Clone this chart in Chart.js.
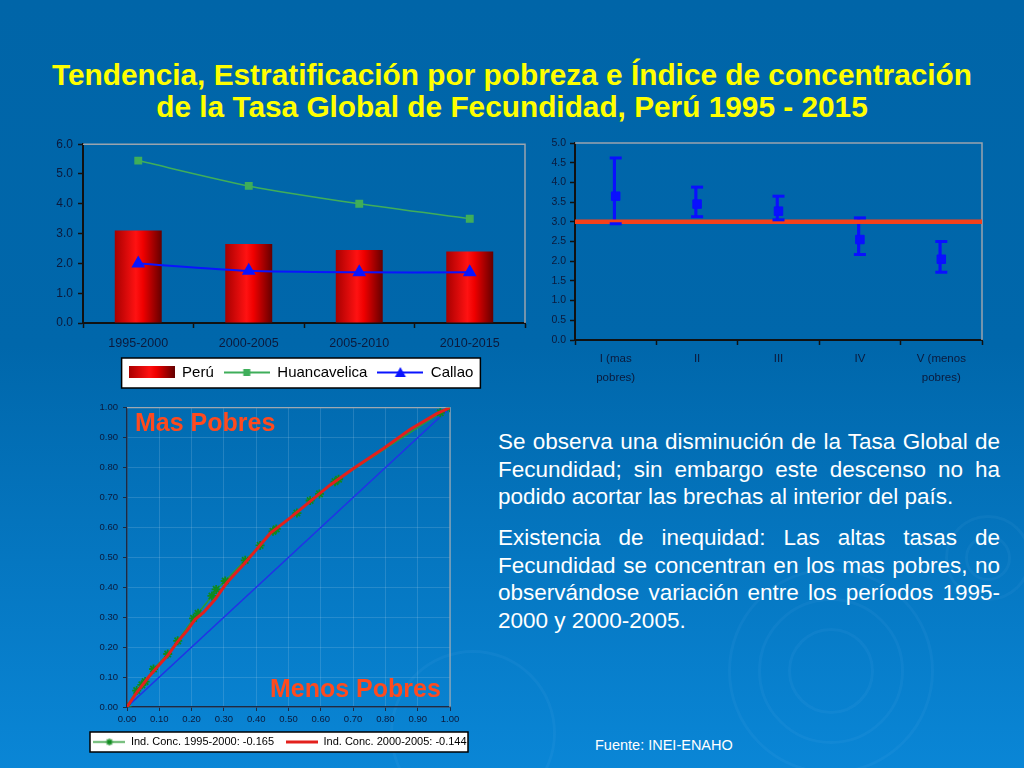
<!DOCTYPE html>
<html>
<head>
<meta charset="utf-8">
<script src="https://cdn.jsdelivr.net/npm/chart.js@4.4.1/dist/chart.umd.min.js"></script>
<style>
  html, body { margin: 0; padding: 0; }
  body {
    width: 1024px; height: 768px; overflow: hidden; position: relative;
    background: linear-gradient(to bottom, #0065a8 0%, #0067ab 45%, #0a86d6 100%);
    font-family: "Liberation Sans", Arial, sans-serif;
  }
  .ring { position: absolute; border-radius: 50%; border: 3px solid rgba(150, 205, 255, 0.06); }
  #title {
    position: absolute; left: 0; top: 59px; width: 1024px; text-align: center;
    color: #ffff00; font-weight: bold; font-size: 29.8px; line-height: 32px;
  }
  .box { position: absolute; }
  #texto {
    position: absolute; left: 498px; top: 428px; width: 502px; color: #fff;
    font-size: 22.5px; line-height: 27.5px; text-align: justify;
  }
  #texto p { margin: 0 0 13.5px 0; }
  #fuente { position: absolute; left: 595px; top: 737px; color: #fff; font-size: 14.5px; }
  .etq { position: absolute; color: #ff4a1e; font-weight: bold; font-size: 25px; line-height: 25px; white-space: nowrap; }
</style>
</head>
<body>
<div class="ring" style="left:788px;top:628px;width:80px;height:80px"></div>
<div class="ring" style="left:758px;top:598px;width:140px;height:140px"></div>
<div class="ring" style="left:728px;top:568px;width:200px;height:200px"></div>
<div class="ring" style="left:965px;top:535px;width:40px;height:40px"></div>
<div class="ring" style="left:945px;top:515px;width:80px;height:80px"></div>
<div class="ring" style="left:390px;top:650px;width:160px;height:160px"></div>

<div id="title">Tendencia, Estratificación por pobreza e Índice de concentración<br>de la Tasa Global de Fecundidad, Perú 1995 - 2015</div>

<div class="box" style="left:40px;top:132px;width:522px;height:260px"><canvas id="c1"></canvas></div>
<div class="box" style="left:532px;top:132px;width:470px;height:258px"><canvas id="c2"></canvas></div>
<div class="box" style="left:78px;top:397px;width:404px;height:361px"><canvas id="c3"></canvas></div>

<div class="etq" style="left:135px;top:410px">Mas Pobres</div>
<div class="etq" style="left:270px;top:676px">Menos Pobres</div>

<div id="texto">
  <p>Se observa una disminución de la Tasa Global de Fecundidad; sin embargo este descenso no ha podido acortar las brechas al interior del país.</p>
  <p>Existencia de inequidad: Las altas tasas de Fecundidad se concentran en los mas pobres, no observándose variación entre los períodos 1995-<wbr>2000 y 2000-2005.</p>
</div>
<div id="fuente">Fuente: INEI-ENAHO</div>

<script>
// tendencia de la TGF por periodo
const periodos = ["1995-2000", "2000-2005", "2005-2010", "2010-2015"];
const tgfPeru = [3.1, 2.65, 2.45, 2.4];
const tgfHuancavelica = [5.45, 4.6, 4.0, 3.5];
const tgfCallao = [2.0, 1.75, 1.7, 1.7];

// TGF por quintil de pobreza, con intervalo
const quintiles = [["I (mas", "pobres)"], "II", "III", "IV", ["V (menos", "pobres)"]];
const quintilTgf = [3.65, 3.45, 3.27, 2.55, 2.05];
const quintilInf = [2.95, 3.13, 3.05, 2.17, 1.72];
const quintilSup = [4.62, 3.88, 3.65, 3.1, 2.5];
const tgfNacional = 3.0;

// curvas de concentracion
const conc95X = [0, 0.03, 0.046, 0.056, 0.082, 0.126, 0.157, 0.206, 0.22, 0.263, 0.276, 0.304, 0.366, 0.412, 0.452, 0.462, 0.526, 0.567, 0.596, 0.644, 0.655, 0.97, 1];
const conc95Y = [0, 0.055, 0.074, 0.085, 0.127, 0.177, 0.221, 0.296, 0.313, 0.371, 0.393, 0.421, 0.49, 0.54, 0.587, 0.595, 0.648, 0.69, 0.712, 0.753, 0.761, 0.983, 1];
const conc00X = [0, 0.031, 0.067, 0.093, 0.126, 0.155, 0.186, 0.211, 0.237, 0.273, 0.309, 0.361, 0.392, 0.443, 0.505, 0.567, 0.629, 0.701, 0.794, 0.876, 0.959, 1];
const conc00Y = [0, 0.05, 0.1, 0.133, 0.172, 0.216, 0.255, 0.293, 0.316, 0.36, 0.415, 0.476, 0.515, 0.58, 0.632, 0.687, 0.742, 0.797, 0.864, 0.927, 0.98, 1];
const igualdadX = [0, 1];
const igualdadY = [0, 1];

const FONT = "'Liberation Sans', Arial, sans-serif";
const TXT = "#0b1a3c";
const AXIS = "#111";

const pairs = (xs, ys) => xs.map((x, i) => ({ x: x, y: ys[i] }));

function icon(w, h, draw) {
  const c = document.createElement("canvas");
  c.width = w;
  c.height = h;
  draw(c.getContext("2d"), w, h);
  return c;
}

function redGradient(ctx, x0, x1) {
  const g = ctx.createLinearGradient(x0, 0, x1, 0);
  g.addColorStop(0, "#a80000");
  g.addColorStop(0.45, "#ff1212");
  g.addColorStop(0.6, "#f00000");
  g.addColorStop(1, "#640000");
  return g;
}

function peruGrad(context) {
  const chart = context.chart;
  const xs = chart.scales.x;
  if (!xs || context.dataIndex === undefined || !xs.width) return "#e00000";
  const cx = xs.getPixelForValue(context.dataIndex);
  const half = (xs.width / periodos.length) * 0.425 / 2;
  return redGradient(chart.ctx, cx - half, cx + half);
}

// gray border on top and right of the plot area
const marco = {
  id: "marco",
  beforeDatasetsDraw(chart, args, opts) {
    const { ctx, chartArea: a } = chart;
    ctx.save();
    ctx.strokeStyle = opts.color || "#9aa4ae";
    ctx.lineWidth = opts.width || 1.5;
    ctx.beginPath();
    ctx.moveTo(a.left, a.top);
    ctx.lineTo(a.right, a.top);
    ctx.lineTo(a.right, a.bottom);
    ctx.stroke();
    ctx.restore();
  }
};

// white box behind the legend
const fondoLeyenda = {
  id: "fondoLeyenda",
  beforeDraw(chart, args, opts) {
    const lg = chart.legend;
    if (!lg || !lg.options.display || !lg.legendHitBoxes || !lg.legendHitBoxes.length) return;
    const hb = lg.legendHitBoxes;
    let x0, x1;
    if (opts.full) {
      x0 = lg.left + opts.full[0];
      x1 = lg.right - opts.full[1];
    } else {
      x0 = Math.min(...hb.map(h => h.left)) - opts.padX;
      x1 = Math.max(...hb.map(h => h.left + h.width)) + opts.padX;
    }
    const y0 = hb[0].top - opts.padTop;
    const y1 = hb[0].top + hb[0].height + opts.padBottom;
    const ctx = chart.ctx;
    ctx.save();
    ctx.fillStyle = "#fff";
    ctx.fillRect(x0, y0, x1 - x0, y1 - y0);
    ctx.strokeStyle = "#000";
    ctx.lineWidth = 1.5;
    ctx.strokeRect(x0, y0, x1 - x0, y1 - y0);
    ctx.restore();
  }
};

// ---------- chart 1: tendencia ----------
const icons1 = [
  icon(46, 15, (c, w, h) => { c.fillStyle = redGradient(c, 0, w); c.fillRect(0, 1, w, 12); }),
  icon(46, 15, (c, w, h) => {
    c.strokeStyle = "#3fae5a"; c.lineWidth = 2;
    c.beginPath(); c.moveTo(0, 7.5); c.lineTo(w, 7.5); c.stroke();
    c.fillStyle = "#3fae5a"; c.fillRect(w / 2 - 3.5, 4, 7, 7);
  }),
  icon(46, 15, (c, w, h) => {
    c.strokeStyle = "#0a14ff"; c.lineWidth = 2;
    c.beginPath(); c.moveTo(0, 7.5); c.lineTo(w, 7.5); c.stroke();
    c.fillStyle = "#0a14ff";
    c.beginPath(); c.moveTo(w / 2, 2); c.lineTo(w / 2 + 5.5, 12); c.lineTo(w / 2 - 5.5, 12); c.closePath(); c.fill();
  })
];

new Chart(document.getElementById("c1"), {
  type: "bar",
  data: {
    labels: periodos,
    datasets: [
      { type: "bar", label: "Perú", data: tgfPeru, backgroundColor: peruGrad,
        barPercentage: 0.85, categoryPercentage: 0.5, order: 2 },
      { type: "line", label: "Huancavelica", data: tgfHuancavelica, borderColor: "#3fae5a",
        backgroundColor: "#3fae5a", borderWidth: 1.5, pointStyle: "rect", pointRadius: 4.5,
        tension: 0.25, order: 1 },
      { type: "line", label: "Callao", data: tgfCallao, borderColor: "#0a14ff",
        backgroundColor: "#0a14ff", borderWidth: 2, pointStyle: "triangle", pointRadius: 6,
        tension: 0.25, order: 0 }
    ]
  },
  options: {
    responsive: true,
    maintainAspectRatio: false,
    animation: false,
    layout: { padding: { left: 0, top: 9, right: 0, bottom: 2 } },
    scales: {
      x: {
        offset: true,
        grid: { drawOnChartArea: false, offset: true, tickLength: 5, tickColor: AXIS, tickWidth: 1.5 },
        border: { color: AXIS, width: 2 },
        ticks: { color: TXT, font: { family: FONT, size: 12.5 }, padding: 8 },
        afterFit: s => { s.height = 32; }
      },
      y: {
        min: 0, max: 6,
        ticks: { stepSize: 1, callback: v => v.toFixed(1), color: TXT, font: { family: FONT, size: 12 }, padding: 5 },
        grid: { drawOnChartArea: false, tickLength: 5, tickColor: AXIS, tickWidth: 1.5 },
        border: { color: AXIS, width: 2 },
        afterFit: s => { s.width = 43; }
      },
      yr: {
        position: "right", display: true,
        ticks: { display: false }, grid: { display: false }, border: { display: false },
        afterFit: s => { s.width = 37; }
      }
    },
    plugins: {
      tooltip: { enabled: false },
      marco: { color: "#9aa4ae", width: 1.5 },
      fondoLeyenda: { padX: 7, padTop: 7, padBottom: 8 },
      legend: {
        position: "bottom",
        labels: {
          usePointStyle: true, pointStyleWidth: 46, padding: 10, color: "#000",
          font: { family: FONT, size: 15 },
          generateLabels: chart => chart.data.datasets.map((ds, i) => ({
            text: ds.label, pointStyle: icons1[i], datasetIndex: i, hidden: false,
            fontColor: "#000", lineWidth: 0, strokeStyle: "rgba(0,0,0,0)", fillStyle: "rgba(0,0,0,0)"
          }))
        }
      }
    }
  },
  plugins: [marco, fondoLeyenda]
});

// ---------- chart 2: quintiles ----------
const AZUL = "#0a10ff";
new Chart(document.getElementById("c2"), {
  type: "bar",
  data: {
    labels: quintiles,
    datasets: [
      { type: "line", label: "TGF", data: quintilTgf, showLine: false, pointStyle: "rect",
        pointRadius: 6, backgroundColor: AZUL, borderColor: AZUL, order: 0 },
      { type: "line", label: "Superior", data: quintilSup, showLine: false, pointStyle: "line",
        pointRadius: 6, borderColor: AZUL, pointBorderWidth: 3, order: 1 },
      { type: "line", label: "Inferior", data: quintilInf, showLine: false, pointStyle: "line",
        pointRadius: 6, borderColor: AZUL, pointBorderWidth: 3, order: 1 },
      { type: "line", label: "Perú", xAxisID: "xr", data: [{ x: 0, y: tgfNacional }, { x: 1, y: tgfNacional }],
        borderColor: "#f5401a", borderWidth: 4.5, pointRadius: 0, order: 2 },
      { type: "bar", label: "Intervalo", data: quintilInf.map((v, i) => [v, quintilSup[i]]),
        backgroundColor: AZUL, barThickness: 2.5, order: 3 }
    ]
  },
  options: {
    responsive: true,
    maintainAspectRatio: false,
    animation: false,
    layout: { padding: { left: 0, top: 11, right: 20, bottom: 0 } },
    scales: {
      x: {
        offset: true,
        grid: { drawOnChartArea: false, offset: true, tickLength: 5, tickColor: AXIS, tickWidth: 1.5 },
        border: { color: AXIS, width: 2 },
        ticks: { color: TXT, font: { family: FONT, size: 11.5, lineHeight: 1.6 }, padding: 5, autoSkip: false, maxRotation: 0 },
        afterFit: s => { s.height = 50; }
      },
      xr: { type: "linear", display: false, offset: false, min: 0, max: 1 },
      y: {
        min: 0, max: 5,
        ticks: { stepSize: 0.5, callback: v => v.toFixed(1), color: TXT, font: { family: FONT, size: 10.5 }, padding: 4 },
        grid: { drawOnChartArea: false, tickLength: 5, tickColor: AXIS, tickWidth: 1.5 },
        border: { color: AXIS, width: 2 },
        afterFit: s => { s.width = 43; }
      }
    },
    plugins: {
      tooltip: { enabled: false },
      legend: { display: false },
      marco: { color: "#9aa4ae", width: 1.5 }
    }
  },
  plugins: [marco]
});

// ---------- chart 3: curvas de concentracion ----------
const icons3 = [
  icon(32, 11, (c, w, h) => {
    c.strokeStyle = "#2a9a35"; c.lineWidth = 1.5;
    c.beginPath(); c.moveTo(0, 5.5); c.lineTo(w, 5.5); c.stroke();
    c.strokeStyle = "#0f8a1e"; c.lineWidth = 1.3;
    c.beginPath();
    for (let k = 0; k < 4; k++) {
      const a = k * Math.PI / 4;
      c.moveTo(w / 2 - 3.5 * Math.cos(a), 5.5 - 3.5 * Math.sin(a));
      c.lineTo(w / 2 + 3.5 * Math.cos(a), 5.5 + 3.5 * Math.sin(a));
    }
    c.stroke();
  }),
  icon(32, 11, (c, w, h) => {
    c.strokeStyle = "#e3201c"; c.lineWidth = 3;
    c.beginPath(); c.moveTo(0, 5.5); c.lineTo(w, 5.5); c.stroke();
  })
];

const tick2 = v => v.toFixed(2);
new Chart(document.getElementById("c3"), {
  type: "scatter",
  data: {
    datasets: [
      { label: "Ind. Conc. 1995-2000: -0.165", data: pairs(conc95X, conc95Y), showLine: true,
        borderColor: "#2a9a35", borderWidth: 1.5, pointStyle: "star", pointRadius: 4.5,
        pointBorderColor: "#0f8a1e", pointBorderWidth: 1.8, order: 1 },
      { label: "Ind. Conc. 2000-2005: -0.144", data: pairs(conc00X, conc00Y), showLine: true,
        borderColor: "#e3201c", borderWidth: 3, pointRadius: 0, order: 0 },
      { label: "Igualdad", data: pairs(igualdadX, igualdadY), showLine: true,
        borderColor: "#2233e6", borderWidth: 1.5, pointRadius: 0, order: 2 }
    ]
  },
  options: {
    responsive: true,
    maintainAspectRatio: false,
    animation: false,
    layout: { padding: { left: 0, top: 9, right: 0, bottom: 0.5 } },
    scales: {
      x: {
        type: "linear", min: 0, max: 1,
        ticks: { stepSize: 0.1, callback: tick2, color: TXT, font: { family: FONT, size: 9.5 }, padding: 3 },
        grid: { color: "rgba(190,215,240,0.18)", tickColor: "#1c2a44", tickLength: 4 },
        border: { color: "#1c2a44", width: 1.5 },
        afterFit: s => { s.height = 17.5; }
      },
      y: {
        min: 0, max: 1,
        ticks: { stepSize: 0.1, callback: tick2, color: TXT, font: { family: FONT, size: 9.5 }, padding: 5 },
        grid: { color: "rgba(190,215,240,0.18)", tickColor: "#1c2a44", tickLength: 4 },
        border: { color: "#1c2a44", width: 1.5 },
        afterFit: s => { s.width = 49; }
      },
      yr: {
        position: "right", display: true,
        ticks: { display: false }, grid: { display: false }, border: { display: false },
        afterFit: s => { s.width = 32; }
      }
    },
    plugins: {
      tooltip: { enabled: false },
      marco: { color: "#a0a8b0", width: 1.2 },
      fondoLeyenda: { full: [12, 14], padTop: 4.5, padBottom: 4.5 },
      legend: {
        position: "bottom",
        labels: {
          usePointStyle: true, pointStyleWidth: 32, padding: 12, color: "#000",
          font: { family: FONT, size: 11 },
          generateLabels: chart => [0, 1].map(i => ({
            text: chart.data.datasets[i].label, pointStyle: icons3[i], datasetIndex: i, hidden: false,
            fontColor: "#000", lineWidth: 0, strokeStyle: "rgba(0,0,0,0)", fillStyle: "rgba(0,0,0,0)"
          }))
        }
      }
    }
  },
  plugins: [marco, fondoLeyenda]
});
</script>
</body>
</html>
